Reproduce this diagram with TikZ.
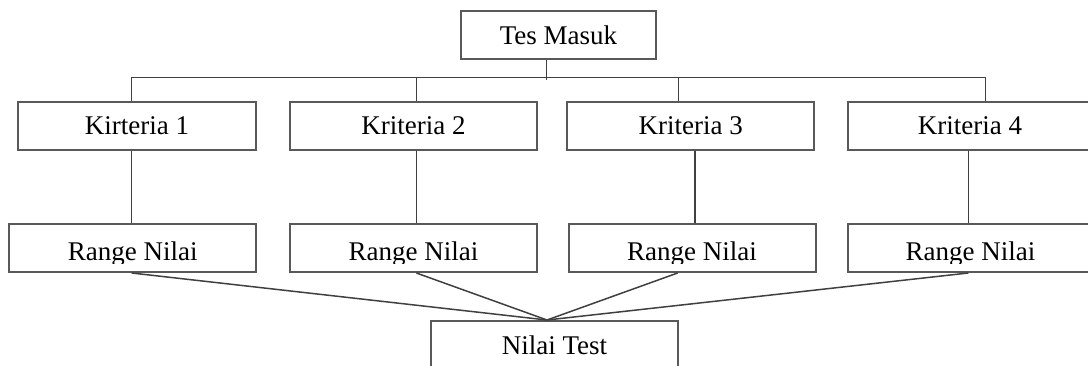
\documentclass[tikz,border=0pt]{standalone}
\usepackage{fontspec}
\setmainfont{Liberation Serif}
\tikzset{
  kotak/.style={draw=black!65, line width=2pt, minimum width=247pt, minimum height=48pt, inner sep=0pt},
  garis/.style={draw=black!75, line width=1.5pt},
  rentang/.style={kotak, path picture={
    \clip ([yshift=9pt]path picture bounding box.south west) rectangle (path picture bounding box.north east);
    \node[anchor=base] at ([yshift=11.3pt]path picture bounding box.south) {#1};}}
}
\begin{document}
\begin{tikzpicture}[x=1pt, y=-1pt, every node/.style={font=\fontsize{27}{30}\selectfont}]
\useasboundingbox (0,0) rectangle (1088,365);
\clip (0,0) rectangle (1088,365);
\node[kotak, minimum width=195pt] (tes) at (558.5,35) {Tes Masuk};
\node[kotak, minimum width=238pt, minimum height=47.5pt] (k1) at (137,125.75) {Kirteria 1};
\node[kotak, minimum height=47.5pt] (k2) at (413.5,125.75) {Kriteria 2};
\node[kotak, minimum height=47.5pt] (k3) at (690.7,125.75) {Kriteria 3};
\node[kotak, minimum width=245pt, minimum height=47.5pt] (k4) at (970,125.75) {Kriteria 4};
\node[rentang=Range Nilai] (r1) at (132.7,248) {};
\node[rentang=Range Nilai] (r2) at (413.5,248) {};
\node[rentang=Range Nilai] (r3) at (692,248) {};
\node[rentang=Range Nilai, minimum width=245pt] (r4) at (970.5,248) {};
\node[kotak] (nt) at (554.5,345) {Nilai Test};
\coordinate (temu) at ([xshift=-7.5pt]nt.north);
\draw[garis] ([xshift=-12pt]tes.south) -- ++(0,20.3);
\draw[garis] ([xshift=-5.3pt]k1.north) -- ++(0,-23.3) -| ([xshift=15.7pt]k4.north);
\draw[garis] ([xshift=3.2pt]k2.north) -- ++(0,-23.3);
\draw[garis] ([xshift=-12.4pt]k3.north) -- ++(0,-23.3);
\draw[garis] ([xshift=-5.3pt]k1.south) -- ([xshift=-5.3pt]k1.south |- r1.north);
\draw[garis] ([xshift=3.2pt]k2.south) -- ([xshift=3.2pt]k2.south |- r2.north);
\draw[garis] ([xshift=4.3pt]k3.south) -- ([xshift=4.3pt]k3.south |- r3.north);
\draw[garis] ([xshift=-1.7pt]k4.south) -- ([xshift=-1.7pt]k4.south |- r4.north);
\draw[garis] ([xshift=-1pt]r1.south) -- (temu);
\draw[garis] ([xshift=2.9pt]r2.south) -- (temu);
\draw[garis] ([xshift=-14.4pt]r3.south) -- (temu);
\draw[garis] ([xshift=-2.2pt]r4.south) -- (temu);
\end{tikzpicture}
\end{document}
